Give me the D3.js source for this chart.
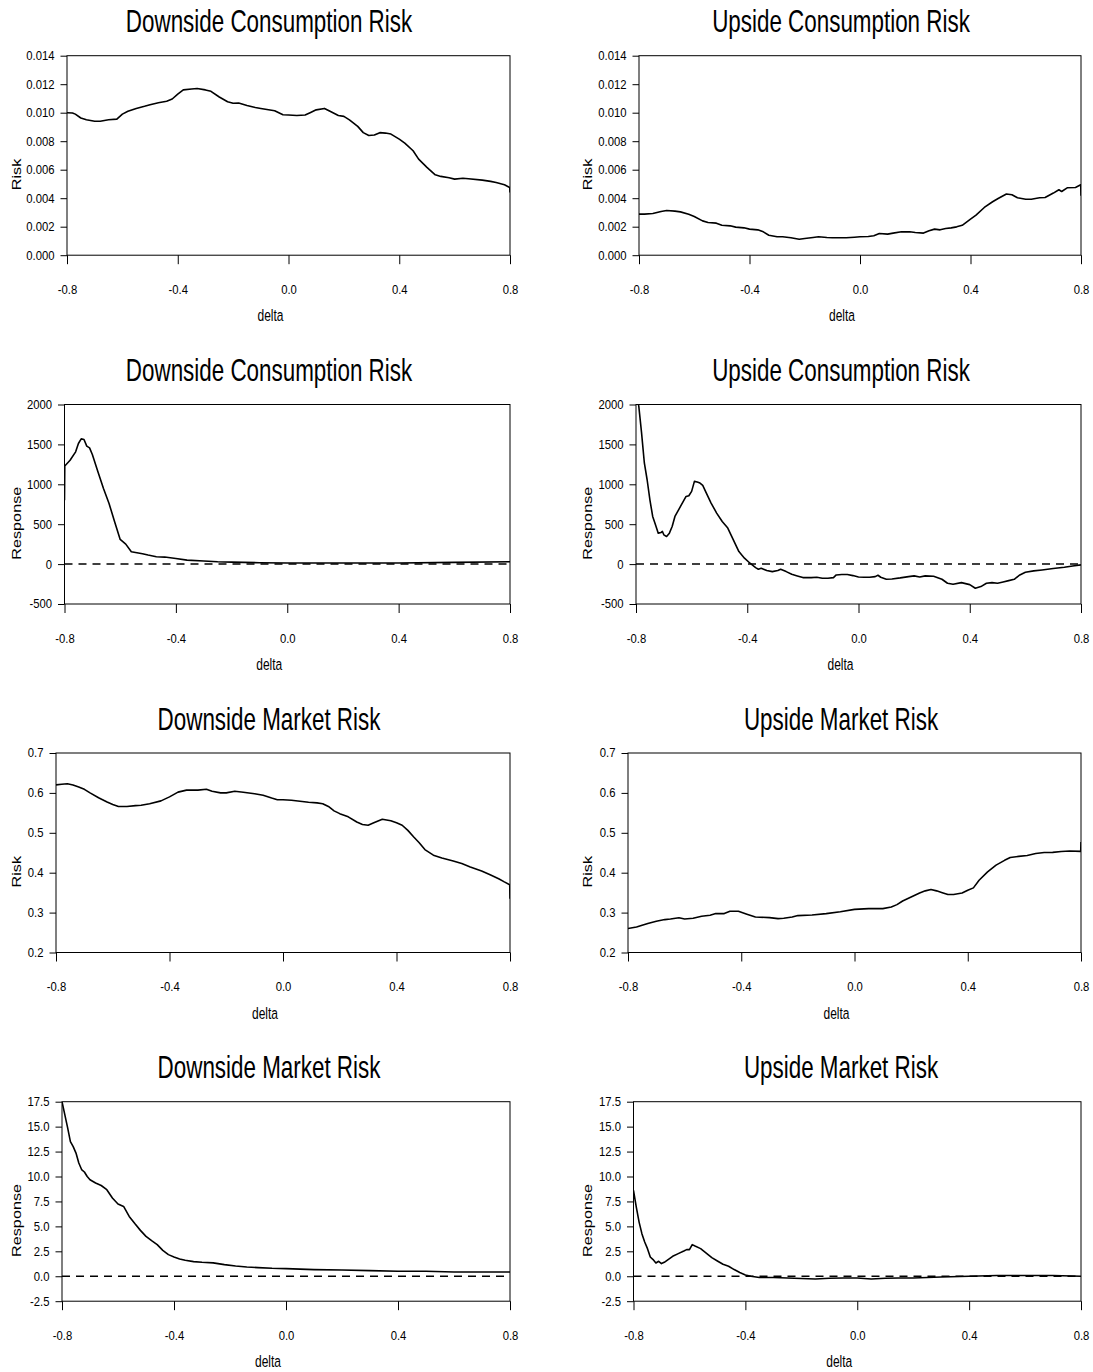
<!DOCTYPE html>
<html>
<head>
<meta charset="utf-8">
<script src="https://cdn.jsdelivr.net/npm/d3@7"></script>
<style>
  body { margin: 0; background: #fff; }
  svg { display: block; font-family: "Liberation Sans", Arial, sans-serif; }
</style>
</head>
<body>
<svg id="chart"></svg>
<script>
// values, as [delta, value]
const downConsRisk = [[-0.8,0.0100],[-0.78,0.00998],[-0.77,0.0099],[-0.75,0.00963],[-0.73,0.0095],[-0.7,0.0094],[-0.68,0.0094],[-0.65,0.0095],[-0.62,0.00955],[-0.6,0.0099],[-0.58,0.0101],[-0.55,0.0103],[-0.52,0.01045],[-0.5,0.01056],[-0.47,0.0107],[-0.44,0.0108],[-0.42,0.01096],[-0.4,0.0113],[-0.38,0.0116],[-0.35,0.01166],[-0.33,0.0117],[-0.3,0.0116],[-0.28,0.0115],[-0.25,0.0111],[-0.22,0.01077],[-0.2,0.01066],[-0.18,0.01068],[-0.15,0.0105],[-0.12,0.01037],[-0.1,0.0103],[-0.05,0.01014],[-0.02,0.00986],[0,0.00984],[0.03,0.0098],[0.06,0.00984],[0.08,0.01002],[0.1,0.0102],[0.13,0.0103],[0.15,0.0101],[0.18,0.0098],[0.2,0.00974],[0.22,0.0095],[0.25,0.00904],[0.27,0.0086],[0.29,0.0084],[0.31,0.00843],[0.33,0.0086],[0.35,0.00857],[0.37,0.0085],[0.4,0.00815],[0.42,0.00787],[0.45,0.00733],[0.47,0.00674],[0.5,0.00616],[0.53,0.00564],[0.55,0.00553],[0.58,0.00543],[0.6,0.00534],[0.63,0.0054],[0.65,0.00536],[0.7,0.00527],[0.73,0.00518],[0.75,0.0051],[0.78,0.00494],[0.799,0.00475],[0.8,0.0044]];
const upConsRisk = [[-0.8,0.00288],[-0.78,0.00288],[-0.75,0.00293],[-0.72,0.00307],[-0.7,0.00314],[-0.67,0.00309],[-0.65,0.00304],[-0.62,0.00288],[-0.6,0.00272],[-0.57,0.00241],[-0.55,0.0023],[-0.52,0.00225],[-0.5,0.0021],[-0.47,0.00206],[-0.45,0.00197],[-0.42,0.00192],[-0.4,0.00183],[-0.37,0.00178],[-0.35,0.00164],[-0.33,0.0014],[-0.3,0.00129],[-0.28,0.00129],[-0.25,0.00122],[-0.22,0.00112],[-0.2,0.00117],[-0.17,0.00124],[-0.15,0.00129],[-0.12,0.00124],[-0.1,0.00122],[-0.07,0.00122],[-0.05,0.00122],[-0.02,0.00126],[0,0.00129],[0.03,0.00131],[0.05,0.00136],[0.07,0.00152],[0.1,0.00148],[0.12,0.00155],[0.15,0.00164],[0.18,0.00164],[0.2,0.00159],[0.23,0.00155],[0.25,0.00171],[0.27,0.00183],[0.29,0.00178],[0.31,0.00187],[0.33,0.00192],[0.35,0.00199],[0.37,0.0021],[0.4,0.00253],[0.42,0.00281],[0.45,0.00335],[0.48,0.00375],[0.5,0.00398],[0.53,0.00429],[0.55,0.00424],[0.57,0.00403],[0.6,0.00393],[0.62,0.00393],[0.65,0.00403],[0.67,0.00405],[0.7,0.00436],[0.72,0.00459],[0.73,0.00447],[0.75,0.00473],[0.78,0.00475],[0.799,0.00494],[0.8,0.00417]];
const downConsResp = [[-0.8,800],[-0.799,1230],[-0.78,1302],[-0.76,1407],[-0.75,1511],[-0.74,1569],[-0.73,1561],[-0.72,1478],[-0.71,1457],[-0.7,1373],[-0.68,1156],[-0.66,947],[-0.64,760],[-0.62,530],[-0.6,309],[-0.58,250],[-0.56,154],[-0.54,142],[-0.52,129],[-0.5,113],[-0.47,92],[-0.44,88],[-0.4,71],[-0.36,50],[-0.3,38],[-0.25,29],[-0.2,25],[-0.1,17],[0,13],[0.2,13],[0.4,13],[0.6,21],[0.8,29]];
const upConsResp = [[-0.8,2150],[-0.79,1979],[-0.78,1644],[-0.77,1267],[-0.76,1057],[-0.75,806],[-0.74,597],[-0.73,492],[-0.72,388],[-0.71,396],[-0.705,409],[-0.7,367],[-0.69,346],[-0.68,388],[-0.67,471],[-0.66,597],[-0.64,723],[-0.62,848],[-0.61,857],[-0.6,911],[-0.59,1037],[-0.58,1029],[-0.57,1016],[-0.56,987],[-0.55,911],[-0.53,765],[-0.51,639],[-0.49,534],[-0.47,451],[-0.45,304],[-0.43,157],[-0.41,74],[-0.39,11],[-0.37,-44],[-0.36,-64],[-0.35,-52],[-0.33,-81],[-0.31,-94],[-0.29,-81],[-0.28,-65],[-0.26,-94],[-0.24,-127],[-0.22,-148],[-0.2,-169],[-0.17,-169],[-0.15,-165],[-0.13,-177],[-0.11,-177],[-0.09,-169],[-0.08,-136],[-0.06,-131],[-0.04,-131],[-0.02,-144],[0,-161],[0.02,-165],[0.04,-165],[0.06,-157],[0.07,-140],[0.08,-165],[0.1,-190],[0.12,-186],[0.15,-173],[0.18,-157],[0.2,-148],[0.22,-161],[0.24,-148],[0.27,-153],[0.3,-190],[0.32,-240],[0.34,-253],[0.37,-232],[0.4,-257],[0.42,-303],[0.44,-282],[0.46,-240],[0.48,-232],[0.5,-240],[0.52,-224],[0.54,-207],[0.56,-190],[0.58,-136],[0.6,-102],[0.63,-85],[0.66,-73],[0.7,-56],[0.74,-39],[0.77,-23],[0.8,-10]];
const downMktRisk = [[-0.8,0.620],[-0.78,0.6215],[-0.76,0.623],[-0.74,0.620],[-0.72,0.615],[-0.7,0.609],[-0.68,0.600],[-0.65,0.588],[-0.62,0.577],[-0.6,0.571],[-0.58,0.566],[-0.55,0.566],[-0.52,0.568],[-0.5,0.569],[-0.47,0.573],[-0.43,0.580],[-0.4,0.590],[-0.37,0.602],[-0.34,0.607],[-0.3,0.607],[-0.27,0.609],[-0.25,0.604],[-0.22,0.600],[-0.2,0.600],[-0.17,0.604],[-0.14,0.6015],[-0.1,0.598],[-0.07,0.594],[-0.04,0.587],[-0.02,0.583],[0,0.583],[0.03,0.5815],[0.06,0.579],[0.09,0.5765],[0.12,0.575],[0.14,0.573],[0.16,0.566],[0.18,0.555],[0.2,0.548],[0.23,0.540],[0.26,0.527],[0.28,0.521],[0.3,0.519],[0.32,0.525],[0.35,0.534],[0.38,0.530],[0.4,0.525],[0.42,0.519],[0.44,0.506],[0.46,0.490],[0.48,0.475],[0.5,0.458],[0.53,0.444],[0.56,0.437],[0.6,0.4295],[0.63,0.423],[0.66,0.4145],[0.7,0.4045],[0.73,0.395],[0.76,0.385],[0.78,0.377],[0.799,0.370],[0.8,0.335]];
const upMktRisk = [[-0.8,0.260],[-0.77,0.264],[-0.73,0.2725],[-0.7,0.2785],[-0.67,0.2825],[-0.65,0.284],[-0.62,0.287],[-0.6,0.284],[-0.57,0.286],[-0.54,0.291],[-0.51,0.2935],[-0.49,0.2975],[-0.46,0.2975],[-0.44,0.3035],[-0.41,0.3035],[-0.38,0.296],[-0.35,0.289],[-0.3,0.2875],[-0.27,0.285],[-0.25,0.286],[-0.22,0.289],[-0.2,0.2925],[-0.15,0.294],[-0.1,0.2975],[-0.05,0.302],[0,0.308],[0.05,0.310],[0.1,0.310],[0.13,0.314],[0.15,0.320],[0.17,0.329],[0.2,0.339],[0.23,0.349],[0.25,0.3545],[0.27,0.358],[0.29,0.3545],[0.31,0.350],[0.33,0.3455],[0.35,0.3455],[0.38,0.349],[0.4,0.356],[0.42,0.362],[0.44,0.381],[0.47,0.402],[0.5,0.419],[0.53,0.431],[0.55,0.438],[0.58,0.441],[0.61,0.443],[0.64,0.448],[0.67,0.4505],[0.7,0.451],[0.73,0.453],[0.76,0.4545],[0.799,0.4535],[0.8,0.477]];
const downMktResp = [[-0.8,17.5],[-0.79,16.2],[-0.78,14.9],[-0.77,13.5],[-0.76,13.0],[-0.75,12.35],[-0.74,11.35],[-0.73,10.7],[-0.72,10.45],[-0.71,10.0],[-0.7,9.68],[-0.68,9.35],[-0.66,9.1],[-0.64,8.68],[-0.62,7.85],[-0.6,7.25],[-0.58,7.0],[-0.56,6.0],[-0.54,5.28],[-0.52,4.6],[-0.5,4.0],[-0.48,3.57],[-0.46,3.17],[-0.44,2.6],[-0.42,2.17],[-0.4,1.94],[-0.38,1.74],[-0.36,1.6],[-0.33,1.47],[-0.3,1.4],[-0.26,1.34],[-0.22,1.17],[-0.18,1.03],[-0.14,0.93],[-0.1,0.87],[-0.05,0.8],[0,0.77],[0.1,0.67],[0.2,0.63],[0.3,0.57],[0.4,0.5],[0.5,0.5],[0.6,0.43],[0.7,0.43],[0.8,0.43]];
const upMktResp = [[-0.8,8.6],[-0.79,6.93],[-0.78,5.43],[-0.77,4.27],[-0.76,3.43],[-0.75,2.77],[-0.74,1.93],[-0.73,1.67],[-0.72,1.33],[-0.71,1.5],[-0.7,1.27],[-0.69,1.4],[-0.68,1.6],[-0.66,2.0],[-0.64,2.27],[-0.62,2.53],[-0.61,2.67],[-0.6,2.67],[-0.59,3.17],[-0.58,3.03],[-0.56,2.77],[-0.54,2.33],[-0.52,1.87],[-0.5,1.53],[-0.48,1.2],[-0.46,1.0],[-0.44,0.67],[-0.42,0.37],[-0.4,0.13],[-0.38,0.0],[-0.35,-0.13],[-0.3,-0.13],[-0.25,-0.17],[-0.2,-0.23],[-0.15,-0.27],[-0.1,-0.2],[-0.05,-0.17],[0,-0.17],[0.05,-0.27],[0.1,-0.2],[0.15,-0.17],[0.2,-0.17],[0.25,-0.13],[0.3,-0.07],[0.4,0.0],[0.5,0.07],[0.6,0.07],[0.7,0.07],[0.8,0.0]];

const deltaTicks = [-0.8, -0.4, 0.0, 0.4, 0.8];
const consRiskTicks = [0, 0.002, 0.004, 0.006, 0.008, 0.010, 0.012, 0.014];
const consRespTicks = [-500, 0, 500, 1000, 1500, 2000];
const mktRiskTicks = [0.2, 0.3, 0.4, 0.5, 0.6, 0.7];
const mktRespTicks = [-2.5, 0, 2.5, 5, 7.5, 10, 12.5, 15, 17.5];

const titles = ["Downside Consumption Risk", "Upside Consumption Risk",
                "Downside Consumption Risk", "Upside Consumption Risk",
                "Downside Market Risk", "Upside Market Risk",
                "Downside Market Risk", "Upside Market Risk"];

const W = 1093, H = 1372;
const svg = d3.select("#chart").attr("width", W).attr("height", H);

// plain hyphen for negatives, like the picture
const locale = d3.formatLocale({ decimal: ".", thousands: ",", grouping: [3], currency: ["", ""], minus: "-" });

const rowTop = [55.7, 404.5, 753, 1101.7];
const plotH = 199.5;
const rightEdge = [510, 1081];
const titleX = [269, 841];
const yLabelX = [21, 592];

// one entry per panel
const panels = [
  { data: downConsRisk, ticks: consRiskTicks, fmt: ".3f", ylab: "Risk", left: 67, zero: false },
  { data: upConsRisk, ticks: consRiskTicks, fmt: ".3f", ylab: "Risk", left: 639, zero: false },
  { data: downConsResp, ticks: consRespTicks, fmt: "d", ylab: "Response", left: 64.5, zero: true },
  { data: upConsResp, ticks: consRespTicks, fmt: "d", ylab: "Response", left: 636, zero: true },
  { data: downMktRisk, ticks: mktRiskTicks, fmt: ".1f", ylab: "Risk", left: 56, zero: false },
  { data: upMktRisk, ticks: mktRiskTicks, fmt: ".1f", ylab: "Risk", left: 628, zero: false },
  { data: downMktResp, ticks: mktRespTicks, fmt: ".1f", ylab: "Response", left: 62, zero: true },
  { data: upMktResp, ticks: mktRespTicks, fmt: ".1f", ylab: "Response", left: 633.5, zero: true }
];

const tickK = 1.1;   // the picture's text is stretched up a little
const titleK = 1.4;

panels.forEach((p, i) => {
  const col = i % 2, row = Math.floor(i / 2);
  const top = rowTop[row], bottom = top + plotH;
  const right = rightEdge[col];

  const x = d3.scaleLinear().domain([-0.8, 0.8]).range([p.left, right]);
  const y = d3.scaleLinear().domain(d3.extent(p.ticks)).range([bottom, top]);

  const g = svg.append("g");

  // title
  g.append("text")
    .attr("transform", `translate(${titleX[col]},${top - 23.5}) scale(1,${titleK})`)
    .attr("text-anchor", "middle")
    .style("font-size", "22.4px")
    .text(titles[i]);

  // frame
  g.append("rect")
    .attr("x", p.left).attr("y", top)
    .attr("width", right - p.left).attr("height", plotH)
    .attr("fill", "none").attr("stroke", "#000").attr("stroke-width", 1);

  // axes
  const yAxis = g.append("g")
    .attr("transform", `translate(${p.left},0)`)
    .call(d3.axisLeft(y).tickValues(p.ticks).tickFormat(locale.format(p.fmt)).tickSize(6.5).tickPadding(6).tickSizeOuter(0));
  yAxis.select(".domain").remove();
  yAxis.selectAll("text").attr("transform", `scale(1,${tickK})`).style("font-size", "11.3px").attr("fill", "#000");

  const xAxis = g.append("g")
    .attr("transform", `translate(0,${bottom})`)
    .call(d3.axisBottom(x).tickValues(deltaTicks).tickFormat(locale.format(".1f")).tickSize(9).tickPadding(18).tickSizeOuter(0));
  xAxis.select(".domain").remove();
  xAxis.selectAll("text").attr("transform", `scale(1,${tickK})`).style("font-size", "11.3px").attr("fill", "#000");

  // axis labels
  g.append("text")
    .attr("transform", `translate(${(p.left + right) / 2 - 18},${bottom + 66}) scale(1,1.45)`)
    .attr("text-anchor", "middle")
    .style("font-size", "12px")
    .text("delta");

  g.append("text")
    .attr("transform", `translate(${yLabelX[col]},${(top + bottom) / 2 + 19}) rotate(-90) scale(1.3,1)`)
    .attr("text-anchor", "middle")
    .style("font-size", "12.5px")
    .text(p.ylab);

  // zero reference
  if (p.zero) {
    g.append("line")
      .attr("x1", p.left).attr("x2", right)
      .attr("y1", y(0)).attr("y2", y(0))
      .attr("stroke", "#000").attr("stroke-width", 1.5)
      .attr("stroke-dasharray", "8,6");
  }

  // curve
  const clipId = "clip" + i;
  g.append("clipPath").attr("id", clipId)
    .append("rect").attr("x", p.left).attr("y", top)
    .attr("width", right - p.left).attr("height", plotH);

  const line = d3.line().x(d => x(d[0])).y(d => y(d[1]));
  g.append("path")
    .datum(p.data)
    .attr("clip-path", `url(#${clipId})`)
    .attr("fill", "none")
    .attr("stroke", "#000")
    .attr("stroke-width", 1.6)
    .attr("stroke-linejoin", "round")
    .attr("d", line);
});
</script>
</body>
</html>
